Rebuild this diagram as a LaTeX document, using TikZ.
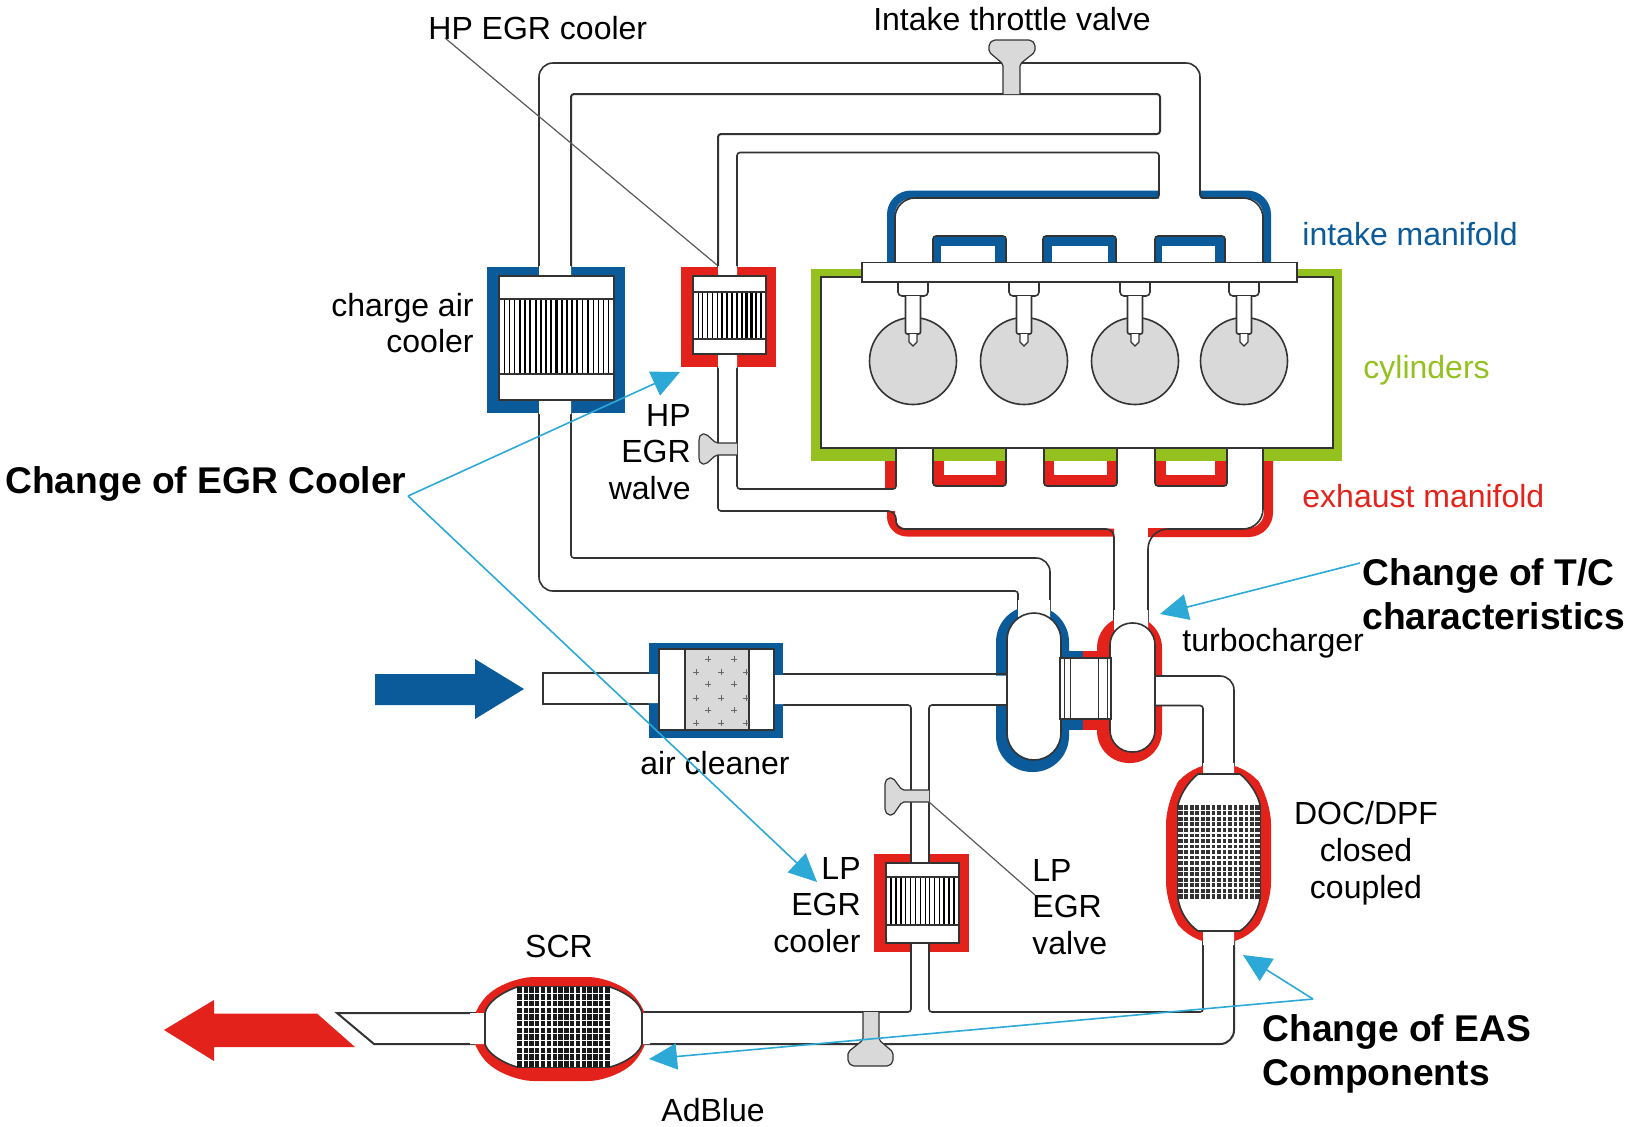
\documentclass[tikz,border=0pt]{standalone}
\usepackage{fontspec}
\setmainfont{Liberation Sans}
\usetikzlibrary{arrows.meta}
\definecolor{engBlue}{HTML}{0B5A9A}
\definecolor{engRed}{HTML}{E3231B}
\definecolor{engGreen}{HTML}{94C120}
\definecolor{engGray}{HTML}{D9D9D9}
\definecolor{engLine}{HTML}{333333}
\definecolor{engCyan}{HTML}{2CA9D6}
\tikzset{
  eng wall/.style={draw=engLine, line width=0.8pt, rounded corners=1.5pt},
  eng box/.style={draw=engLine, fill=white, line width=0.8pt},
  eng part/.style={draw=engLine, fill=engGray, line width=0.6pt, rounded corners=1pt},
  eng lead/.style={draw=black!65, line width=0.6pt},
  eng callout/.style={draw=engCyan, line width=0.8pt, -{Triangle[length=14pt,width=13pt]}},
  eng label/.style={font=\fontsize{16}{18.4}\selectfont, text=black, inner sep=0pt},
  eng bold/.style={font=\fontsize{18.6}{22.3}\selectfont\bfseries, text=black, inner sep=0pt, align=left},
}
\begin{document}
\begin{tikzpicture}[x=0.5pt,y=-0.5pt]
  \useasboundingbox (0,0) rectangle (1626,1126);
  % Coloured bands of the manifolds, under the pipes
  \draw[engBlue, line width=4pt, rounded corners=10pt] (1201,194.5) -- (1267,194.5) -- (1267,263);
  \draw[engBlue, line width=4pt, rounded corners=10pt] (1159,194.5) -- (891,194.5) -- (891,263);
  \fill[engGreen] (811,269) rectangle (1342,461);
  \fill[white] (821,277) rectangle (1333,448);
  \foreach \a/\b in {896/933,1006/1044,1117/1155,1227/1263} \fill[white] (\a,447) rectangle (\b,462);
  \fill[engRed] (885,461) rectangle (896,489);
  \draw[engRed, line width=4pt, rounded corners=8pt] (891,511) -- (891,532.5) -- (1114,532.5);
  \draw[engRed, line width=4.5pt, rounded corners=10pt] (1148,532.5) -- (1268.5,532.5) -- (1268.5,461);
  % Runners on both sides of the block
  \foreach \a/\b/\c/\d in {933/1006/941/995,1043/1116/1052/1108,1155/1225/1162/1215} {
    \fill[engBlue] (\a,236) rectangle (\b,262);
    \fill[white] (\c,246) rectangle (\d,262);
    \draw[eng wall] (\a,262) -- (\a,236) -- (\b,236) -- (\b,262);
  }
  \foreach \a/\b/\c/\d in {933/1006/944/996,1044/1117/1054/1107,1155/1227/1166/1215} {
    \fill[engRed] (\a,461) rectangle (\b,486);
    \fill[white] (\c,461) rectangle (\d,475);
    \draw[eng wall] (\a,448) -- (\a,486) -- (\b,486) -- (\b,448);
  }
  \draw[eng wall, rounded corners=0pt] (862,277) -- (821,277) -- (821,448) -- (1333,448) -- (1333,277) -- (1297,277);
  % Cylinders and injectors
  \foreach \x in {913,1024,1135,1244} {
    \draw[eng part, line width=0.8pt] (\x,361) circle[radius=43.5];
    \draw[eng box, rounded corners=2pt] (\x-15,282) -- (\x-15,296) -- (\x+15,296) -- (\x+15,282);
    \draw[eng box, rounded corners=1pt] (\x-7.5,296) -- (\x-7.5,334) -- (\x+7.5,334) -- (\x+7.5,296);
    \draw[eng box, line width=0.6pt] (\x-4,334) -- (\x-4,342) -- (\x,346) -- (\x+4,342) -- (\x+4,334);
  }
  \draw[eng box] (862,262.5) rectangle (1297,282);
  % Charge air and EGR pipes
  \draw[eng wall, rounded corners=7pt] (539,267) -- (539,63) -- (1200,63) [rounded corners=1.5pt] -- (1200,198) [rounded corners=10pt] -- (1263,198) -- (1263,262);
  \draw[eng wall, line width=1pt] (571,267) -- (571,94) -- (1160,94) -- (1160,134) -- (718,134) -- (718,267);
  \draw[eng wall] (737,267) -- (737,152.5) -- (1159,152.5) -- (1159,198) [rounded corners=10pt] -- (895,198) -- (895,262);
  \draw[eng wall, rounded corners=7pt] (539,400) -- (539,591) [rounded corners=1.5pt] -- (1018,591) -- (1018,612);
  \draw[eng wall] (571,400) -- (571,558) [rounded corners=7pt] -- (1050,558) -- (1050,616);
  \draw[eng wall] (718,354) -- (718,511) [rounded corners=4pt] -- (896,511) -- (896,529) -- (1114,529) [rounded corners=1.5pt] -- (1114,625);
  \draw[eng wall] (737,354) -- (737,489) -- (896,489) -- (896,448);
  \draw[eng wall, rounded corners=10pt] (1148,625) -- (1148,529) -- (1263,529) -- (1263,448);
  % Charge air cooler
  \fill[engBlue] (487,267) rectangle (625,413);
  \fill[white] (539,266) rectangle (571,277) (539,399) rectangle (571,414);
  \draw[eng box] (499,276) rectangle (614,400);
  % HP EGR cooler
  \fill[engRed] (681,267) rectangle (776,367);
  \fill[white] (718,266) rectangle (737,277) (718,353) rectangle (737,368);
  \draw[eng box] (693,276) rectangle (766,354);
  % LP EGR cooler
  \fill[engRed] (874,854) rectangle (969,952);
  \fill[white] (911,853) rectangle (929,864) (911,942) rectangle (929,953);
  \draw[eng box] (886,863) rectangle (959,943);
  % Fins of the three coolers
  \foreach \xa/\xb/\ya/\yb/\n/\ph/\po in {499/614/299/374/21/9/0,693/766/292/339/14/6/0,886/959/877/925/14/12/90} {
    \foreach \i in {1,...,\n} {
      \pgfmathsetmacro{\fw}{0.25+0.95*abs(sin(\i*\ph+\po))}
      \draw[black, line width=\fw pt] ({\xa+(\xb-\xa)*\i/(\n+1)},\ya) -- ({\xa+(\xb-\xa)*\i/(\n+1)},\yb);
    }
    \draw[engLine, line width=0.8pt] (\xa,\ya) rectangle (\xb,\yb);
  }
  % Turbocharger bands
  \fill[engBlue] (1069,651) rectangle (1083,730);
  \fill[engRed] (1083,651) rectangle (1097,730);
  \fill[engBlue, rounded corners=18pt] (996,606) rectangle (1069,772);
  \fill[engRed, rounded corners=16pt] (1097,616) rectangle (1162,763);
  \fill[white] (1018,600) rectangle (1050,625) (995,675.5) rectangle (1008,705.5);
  \fill[white] (1114,610) rectangle (1148,630) (1154,676) rectangle (1163,705.5);
  \draw[eng box, rounded corners=13.5pt] (1007,613) rectangle (1061,760);
  \draw[eng box, rounded corners=11pt] (1110,623) rectangle (1155,752);
  \draw[eng box] (1060,658) rectangle (1111,719);
  \foreach \x in {1064,1070,1098,1107} \draw[engLine, line width=0.5pt] (\x,658) -- (\x,719);
  % Low pressure side
  \draw[eng box] (543,673) rectangle (659,704);
  \draw[eng wall] (774,674) -- (1007,674);
  \draw[eng wall] (774,705) -- (911,705) -- (911,863);
  \draw[eng wall] (1007,705) -- (929,705) -- (929,863);
  \draw[eng wall, rounded corners=7pt] (1155,676) -- (1234,676) -- (1234,774);
  \draw[eng wall] (1155,705.5) -- (1203,705.5) -- (1203,774);
  \draw[eng wall] (911,943) -- (911,1012) -- (642,1012);
  \draw[eng wall] (929,943) -- (929,1012) -- (1203,1012) -- (1203,931);
  \draw[eng wall, line width=1pt, rounded corners=7pt] (1234,931) -- (1234,1044) -- (642,1044);
  \draw[eng wall, rounded corners=0pt, line width=1pt] (485,1013) -- (337,1013) -- (374,1044) -- (485,1044);
  % Air cleaner
  \fill[engBlue] (649,643) rectangle (783,738);
  \fill[white] (648,674) rectangle (660,703) (773,675) rectangle (784,704);
  \draw[eng box, line width=1pt] (659,649) rectangle (774,730);
  \draw[eng part, rounded corners=0pt, line width=0.8pt] (685,649) rectangle (749,730);
  \foreach \y in {659,684,710} \foreach \x in {708,734} {
    \draw[black!60, line width=0.4pt] (\x-3,\y) -- (\x+3,\y) (\x,\y-3) -- (\x,\y+3);
  }
  \foreach \y in {672,698,723} \foreach \x in {696,721,746} {
    \draw[black!60, line width=0.4pt] (\x-3,\y) -- (\x+3,\y) (\x,\y-3) -- (\x,\y+3);
  }
  % DOC/DPF
  \fill[engRed, rounded corners=12pt] (1190,764) -- (1247,764) -- (1271,800) -- (1271,906) -- (1247,943) -- (1190,943) -- (1166,906) -- (1166,800) -- cycle;
  \fill[white] (1203,763) rectangle (1234,775) (1203,930) rectangle (1234,945);
  \draw[eng box] (1198,774) -- (1240,774) .. controls (1250,782) and (1258,795) .. (1260,805) -- (1260,899) .. controls (1258,912) and (1250,924) .. (1240,931) -- (1198,931) .. controls (1188,924) and (1180,912) .. (1178,899) -- (1178,805) .. controls (1180,795) and (1188,782) .. (1198,774) -- cycle;
  \fill[engLine] (1178,805) rectangle (1260,899);
  \foreach \i in {1,...,14} \draw[white, line width=0.85pt] ({1178+\i*5.47},805) -- ({1178+\i*5.47},899);
  \foreach \i in {1,...,16} \draw[white, line width=0.85pt] (1178,{805+\i*5.53}) -- (1260,{805+\i*5.53});
  % SCR
  \fill[engRed, rounded corners=12pt] (510,977) -- (612,977) -- (649,1008) -- (649,1050) -- (612,1081) -- (510,1081) -- (471,1050) -- (471,1008) -- cycle;
  \fill[white] (470,1013) rectangle (486,1044) (641,1013) rectangle (650,1044);
  \draw[eng box] (517,987) -- (610,987) .. controls (628,993) and (640,1003) .. (642,1013) -- (642,1044) .. controls (640,1052) and (628,1062) .. (610,1067) -- (517,1067) .. controls (500,1062) and (487,1052) .. (485,1044) -- (485,1013) .. controls (487,1003) and (500,993) .. (517,987) -- cycle;
  \fill[black!90] (517,987) rectangle (610,1067);
  \foreach \i in {1,...,15} \draw[white, line width=0.75pt] ({517+\i*5.81},987) -- ({517+\i*5.81},1067);
  \foreach \i in {1,...,11} \draw[white, line width=0.75pt] (517,{987+\i*6.67}) -- (610,{987+\i*6.67});
  % Valves
  \draw[eng part] (1003,94) -- (1003,64) -- (989,52) -- (989,44) -- (993,40) -- (1031,40) -- (1035,44) -- (1035,52) -- (1020,64) -- (1020,94);
  \draw[eng part] (737,443) -- (716,443) -- (706,434) -- (701,434) -- (699,438) -- (699,460) -- (701,464) -- (706,464) -- (716,455) -- (737,455);
  \draw[eng part] (929,790) -- (902,790) -- (893,778) -- (888,778) -- (885,782) -- (885,811) -- (888,815) -- (893,815) -- (902,802) -- (929,802);
  \draw[eng part] (863,1012) -- (863,1040) -- (848,1052) -- (848,1062) -- (852,1066) -- (889,1066) -- (893,1062) -- (893,1052) -- (879,1040) -- (879,1012);
  % Flow arrows
  \fill[engBlue] (375,674) -- (475,674) -- (475,659) -- (524,689) -- (475,719) -- (475,705) -- (375,705) -- cycle;
  \fill[engRed] (164,1030) -- (214,1000) -- (214,1013.5) -- (317,1013.5) -- (355,1047) -- (214,1047) -- (214,1061) -- cycle;
  % Labels
  \node[eng label, anchor=west] (lblHpCooler) at (428,28) {HP EGR cooler};
  \node[eng label] (lblThrottle) at (1012,19) {Intake throttle valve};
  \node[eng label, anchor=west, text=engBlue] (lblIntake) at (1302,234) {intake manifold};
  \node[eng label, anchor=west, text=engGreen] (lblCylinders) at (1363,370) {cylinders};
  \node[eng label, anchor=west, text=engRed] (lblExhaust) at (1302,496) {exhaust manifold};
  \node[eng label, anchor=east, align=right] (lblChargeAir) at (474,323) {charge air\\cooler};
  \node[eng label, anchor=east, align=right] (lblHpValve) at (691,452) {HP\\EGR\\walve};
  \node[eng label, anchor=west] (lblTurbo) at (1182,643) {turbocharger};
  \node[eng label] (lblCleaner) at (715,763) {air cleaner};
  \node[eng label, align=center] (lblDoc) at (1366,853) {DOC/DPF\\closed\\coupled};
  \node[eng label, anchor=east, align=right] (lblLpCooler) at (861,905) {LP\\EGR\\cooler};
  \node[eng label, anchor=west, align=left] (lblLpValve) at (1032,907) {LP\\EGR\\valve};
  \node[eng label] (lblScr) at (559,946) {SCR};
  \node[eng label] (lblAdBlue) at (713,1110) {AdBlue};
  \node[eng bold, anchor=west] (lblChangeEgr) at (5,484) {Change of EGR Cooler};
  \node[eng bold, anchor=west] (lblChangeTc) at (1362,594) {Change of T/C\\characteristics};
  \node[eng bold, anchor=west] (lblChangeEas) at (1262,1054) {Change of EAS\\Components};
  % Leaders and callouts
  \coordinate (hpCoolerEnd) at (717,265);
  \coordinate (hpCoolerStart) at (445,38);
  \coordinate (lpValveEnd) at (929,802);
  \coordinate (lpValveStart) at (1035,895);
  \coordinate (egrFork) at (408,496);
  \coordinate (hpTip) at (680,372);
  \coordinate (lpTip) at (817,882);
  \coordinate (tcStart) at (1360,563);
  \coordinate (tcTip) at (1160,614);
  \coordinate (easFork) at (1313,999);
  \coordinate (docTip) at (1243,955);
  \coordinate (scrTip) at (649,1059);
  \draw[eng lead] (hpCoolerStart) -- (hpCoolerEnd);
  \draw[eng lead] (lpValveStart) -- (lpValveEnd);
  \draw[eng callout] (egrFork) -- (hpTip);
  \draw[eng callout] (egrFork) -- (lpTip);
  \draw[eng callout] (tcStart) -- (tcTip);
  \draw[eng callout] (easFork) -- (docTip);
  \draw[eng callout] (easFork) -- (scrTip);
\end{tikzpicture}
\end{document}
